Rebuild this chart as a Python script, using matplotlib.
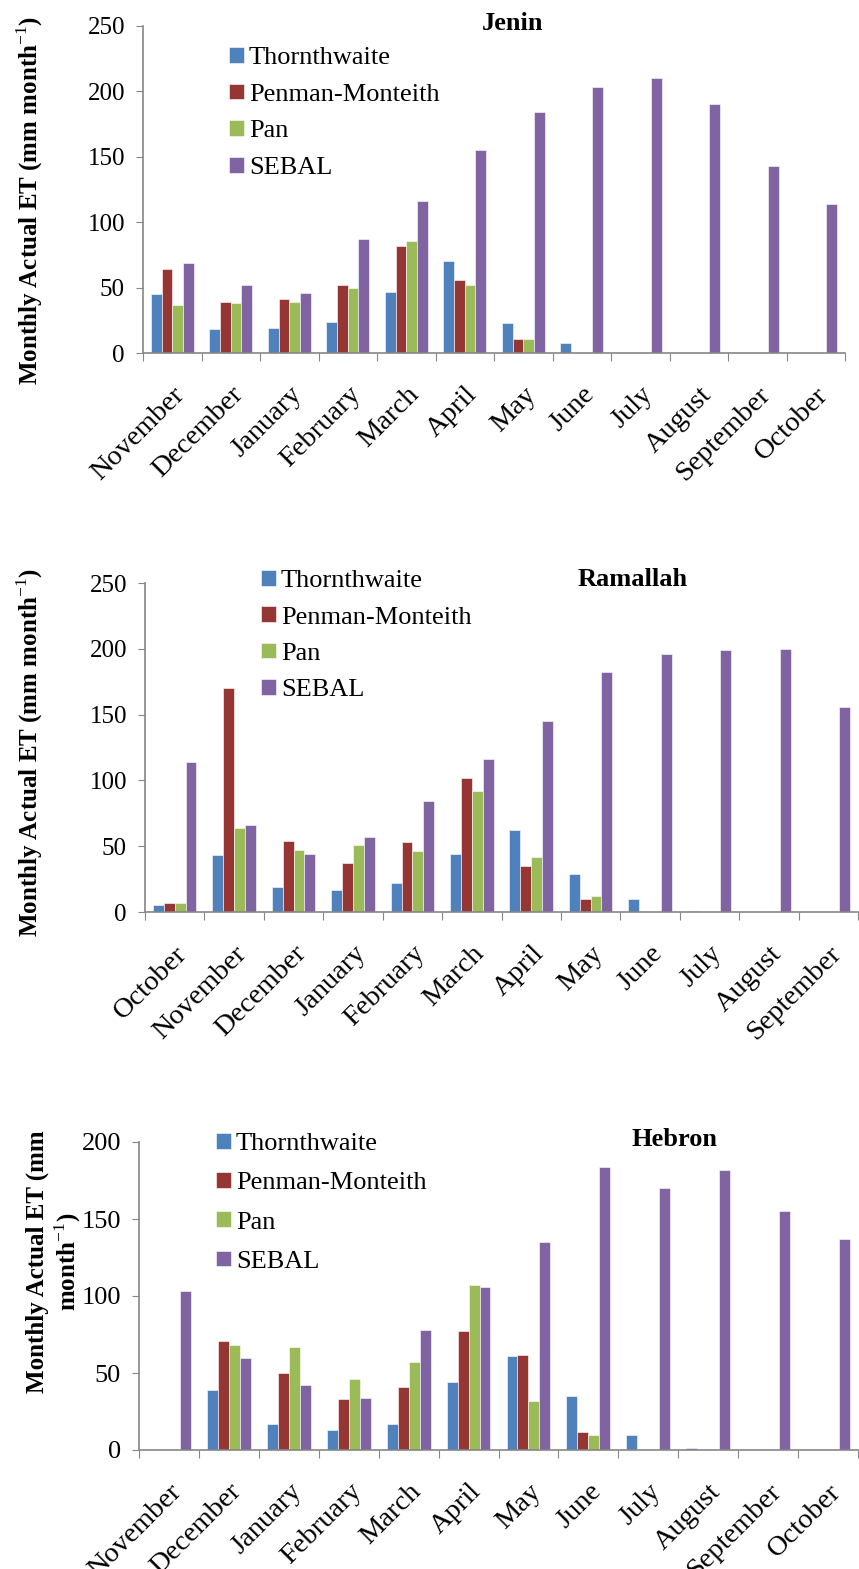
import matplotlib
matplotlib.use('Agg')
import matplotlib.pyplot as plt
import numpy as np

plt.rcParams['font.family'] = ['Liberation Serif', 'DejaVu Serif']
plt.rcParams['mathtext.fontset'] = 'custom'
plt.rcParams['mathtext.rm'] = 'Liberation Serif'
plt.rcParams['mathtext.bf'] = 'Liberation Serif:bold'

# series names and colours (Excel 2007 palette)
methods = ['Thornthwaite', 'Penman-Monteith', 'Pan', 'SEBAL']
colors = ['#4F81BD', '#963634', '#9BBB59', '#8064A2']

# Jenin
jenin_months = ['November', 'December', 'January', 'February', 'March', 'April',
                'May', 'June', 'July', 'August', 'September', 'October']
jenin_thorn = [45, 18, 19, 24, 47, 70, 23, 8, 0, 0, 0, 0]
jenin_pm = [64, 39, 41, 52, 82, 56, 11, 0, 0, 0, 0, 0]
jenin_pan = [37, 38, 39, 50, 86, 52, 11, 0, 0, 0, 0, 0]
jenin_sebal = [69, 52, 46, 87, 116, 155, 184, 203, 210, 190, 143, 114]

# Ramallah
ramallah_months = ['October', 'November', 'December', 'January', 'February', 'March',
                   'April', 'May', 'June', 'July', 'August', 'September']
ramallah_thorn = [5, 43, 19, 17, 22, 44, 62, 29, 10, 1, 0, 0]
ramallah_pm = [7, 170, 54, 37, 53, 102, 35, 10, 0, 0, 0, 0]
ramallah_pan = [7, 64, 47, 51, 46, 92, 42, 12, 0, 0, 0, 0]
ramallah_sebal = [114, 66, 44, 57, 84, 116, 145, 182, 196, 199, 200, 156]

# Hebron
hebron_months = ['November', 'December', 'January', 'February', 'March', 'April',
                 'May', 'June', 'July', 'August', 'September', 'October']
hebron_thorn = [0, 39, 17, 13, 17, 44, 61, 35, 10, 1, 0, 0]
hebron_pm = [0, 71, 50, 33, 41, 77, 62, 12, 0, 0, 0, 0]
hebron_pan = [0, 68, 67, 46, 57, 107, 32, 10, 0, 0, 0, 0]
hebron_sebal = [103, 60, 42, 34, 78, 106, 135, 184, 170, 182, 155, 137]

W, H = 859, 1569
fig = plt.figure(figsize=(W / 100, H / 100), dpi=100)


def px_axes(left, top, right, bottom):
    """axes from pixel box"""
    return fig.add_axes([left / W, 1 - bottom / H, (right - left) / W, (bottom - top) / H])


def draw_panel(ax, months, series, ymax, title, title_xy, legend_xy, legend_sp):
    n = len(months)
    x = np.arange(n)
    bw = 0.183
    for k, vals in enumerate(series):
        ax.bar(x + (k - 1.5) * bw, vals, width=bw, color=colors[k],
               edgecolor='white', linewidth=0.4, label=methods[k])
    ax.set_xlim(-0.5, n - 0.5)
    ax.set_ylim(0, ymax)
    ax.set_yticks(np.arange(0, ymax + 1, 50))
    ax.tick_params(axis='y', labelsize=18, length=5, color='#868686', pad=8)
    # boundaries as major ticks, month names on minor ticks
    ax.set_xticks(np.arange(-0.5, n, 1.0))
    ax.set_xticklabels([])
    ax.set_xticks(x, minor=True)
    ax.set_xticklabels(months, minor=True, rotation=45, ha='right',
                       rotation_mode='anchor', fontsize=20.5)
    ax.tick_params(axis='x', which='major', length=6, color='#868686')
    ax.tick_params(axis='x', which='minor', length=0, pad=21)
    for s in ['top', 'right']:
        ax.spines[s].set_visible(False)
    for s in ['left', 'bottom']:
        ax.spines[s].set_color('#868686')
        ax.spines[s].set_linewidth(1.2)
    fig.text(title_xy[0] / W, 1 - title_xy[1] / H, title, fontsize=19,
             fontweight='bold', ha='center', va='center')
    ax.legend(loc='upper left', bbox_to_anchor=(legend_xy[0] / W, 1 - legend_xy[1] / H),
              bbox_transform=fig.transFigure, frameon=False, fontsize=19,
              handlelength=0.55, handleheight=0.55, handletextpad=0.2,
              labelspacing=legend_sp, borderpad=0, borderaxespad=0)


ylab = r'Monthly Actual ET (mm month$^{-1}$)'

ax1 = px_axes(143, 26, 845, 353)
draw_panel(ax1, jenin_months, [jenin_thorn, jenin_pm, jenin_pan, jenin_sebal],
           250, 'Jenin', (513, 23), (229, 47), 0.54)
fig.text(30 / W, 1 - 200 / H, ylab, rotation=90, fontsize=18, fontweight='bold',
         ha='center', va='center')

ax2 = px_axes(145, 583, 858, 912)
draw_panel(ax2, ramallah_months, [ramallah_thorn, ramallah_pm, ramallah_pan, ramallah_sebal],
           250, 'Ramallah', (633, 579), (261, 570), 0.53)
fig.text(30 / W, 1 - 752 / H, ylab, rotation=90, fontsize=18, fontweight='bold',
         ha='center', va='center')

ax3 = px_axes(139, 1142, 858, 1450)
draw_panel(ax3, hebron_months, [hebron_thorn, hebron_pm, hebron_pan, hebron_sebal],
           200, 'Hebron', (675, 1139), (216, 1133), 0.64)
ax3.tick_params(axis='y', labelsize=19)
fig.text(54 / W, 1 - 1262 / H, 'Monthly Actual ET (mm\nmonth$^{-1}$)', rotation=90,
         fontsize=18, fontweight='bold', ha='center', va='center', linespacing=1.15)

plt.savefig('out.png', dpi=100)
plt.close()
